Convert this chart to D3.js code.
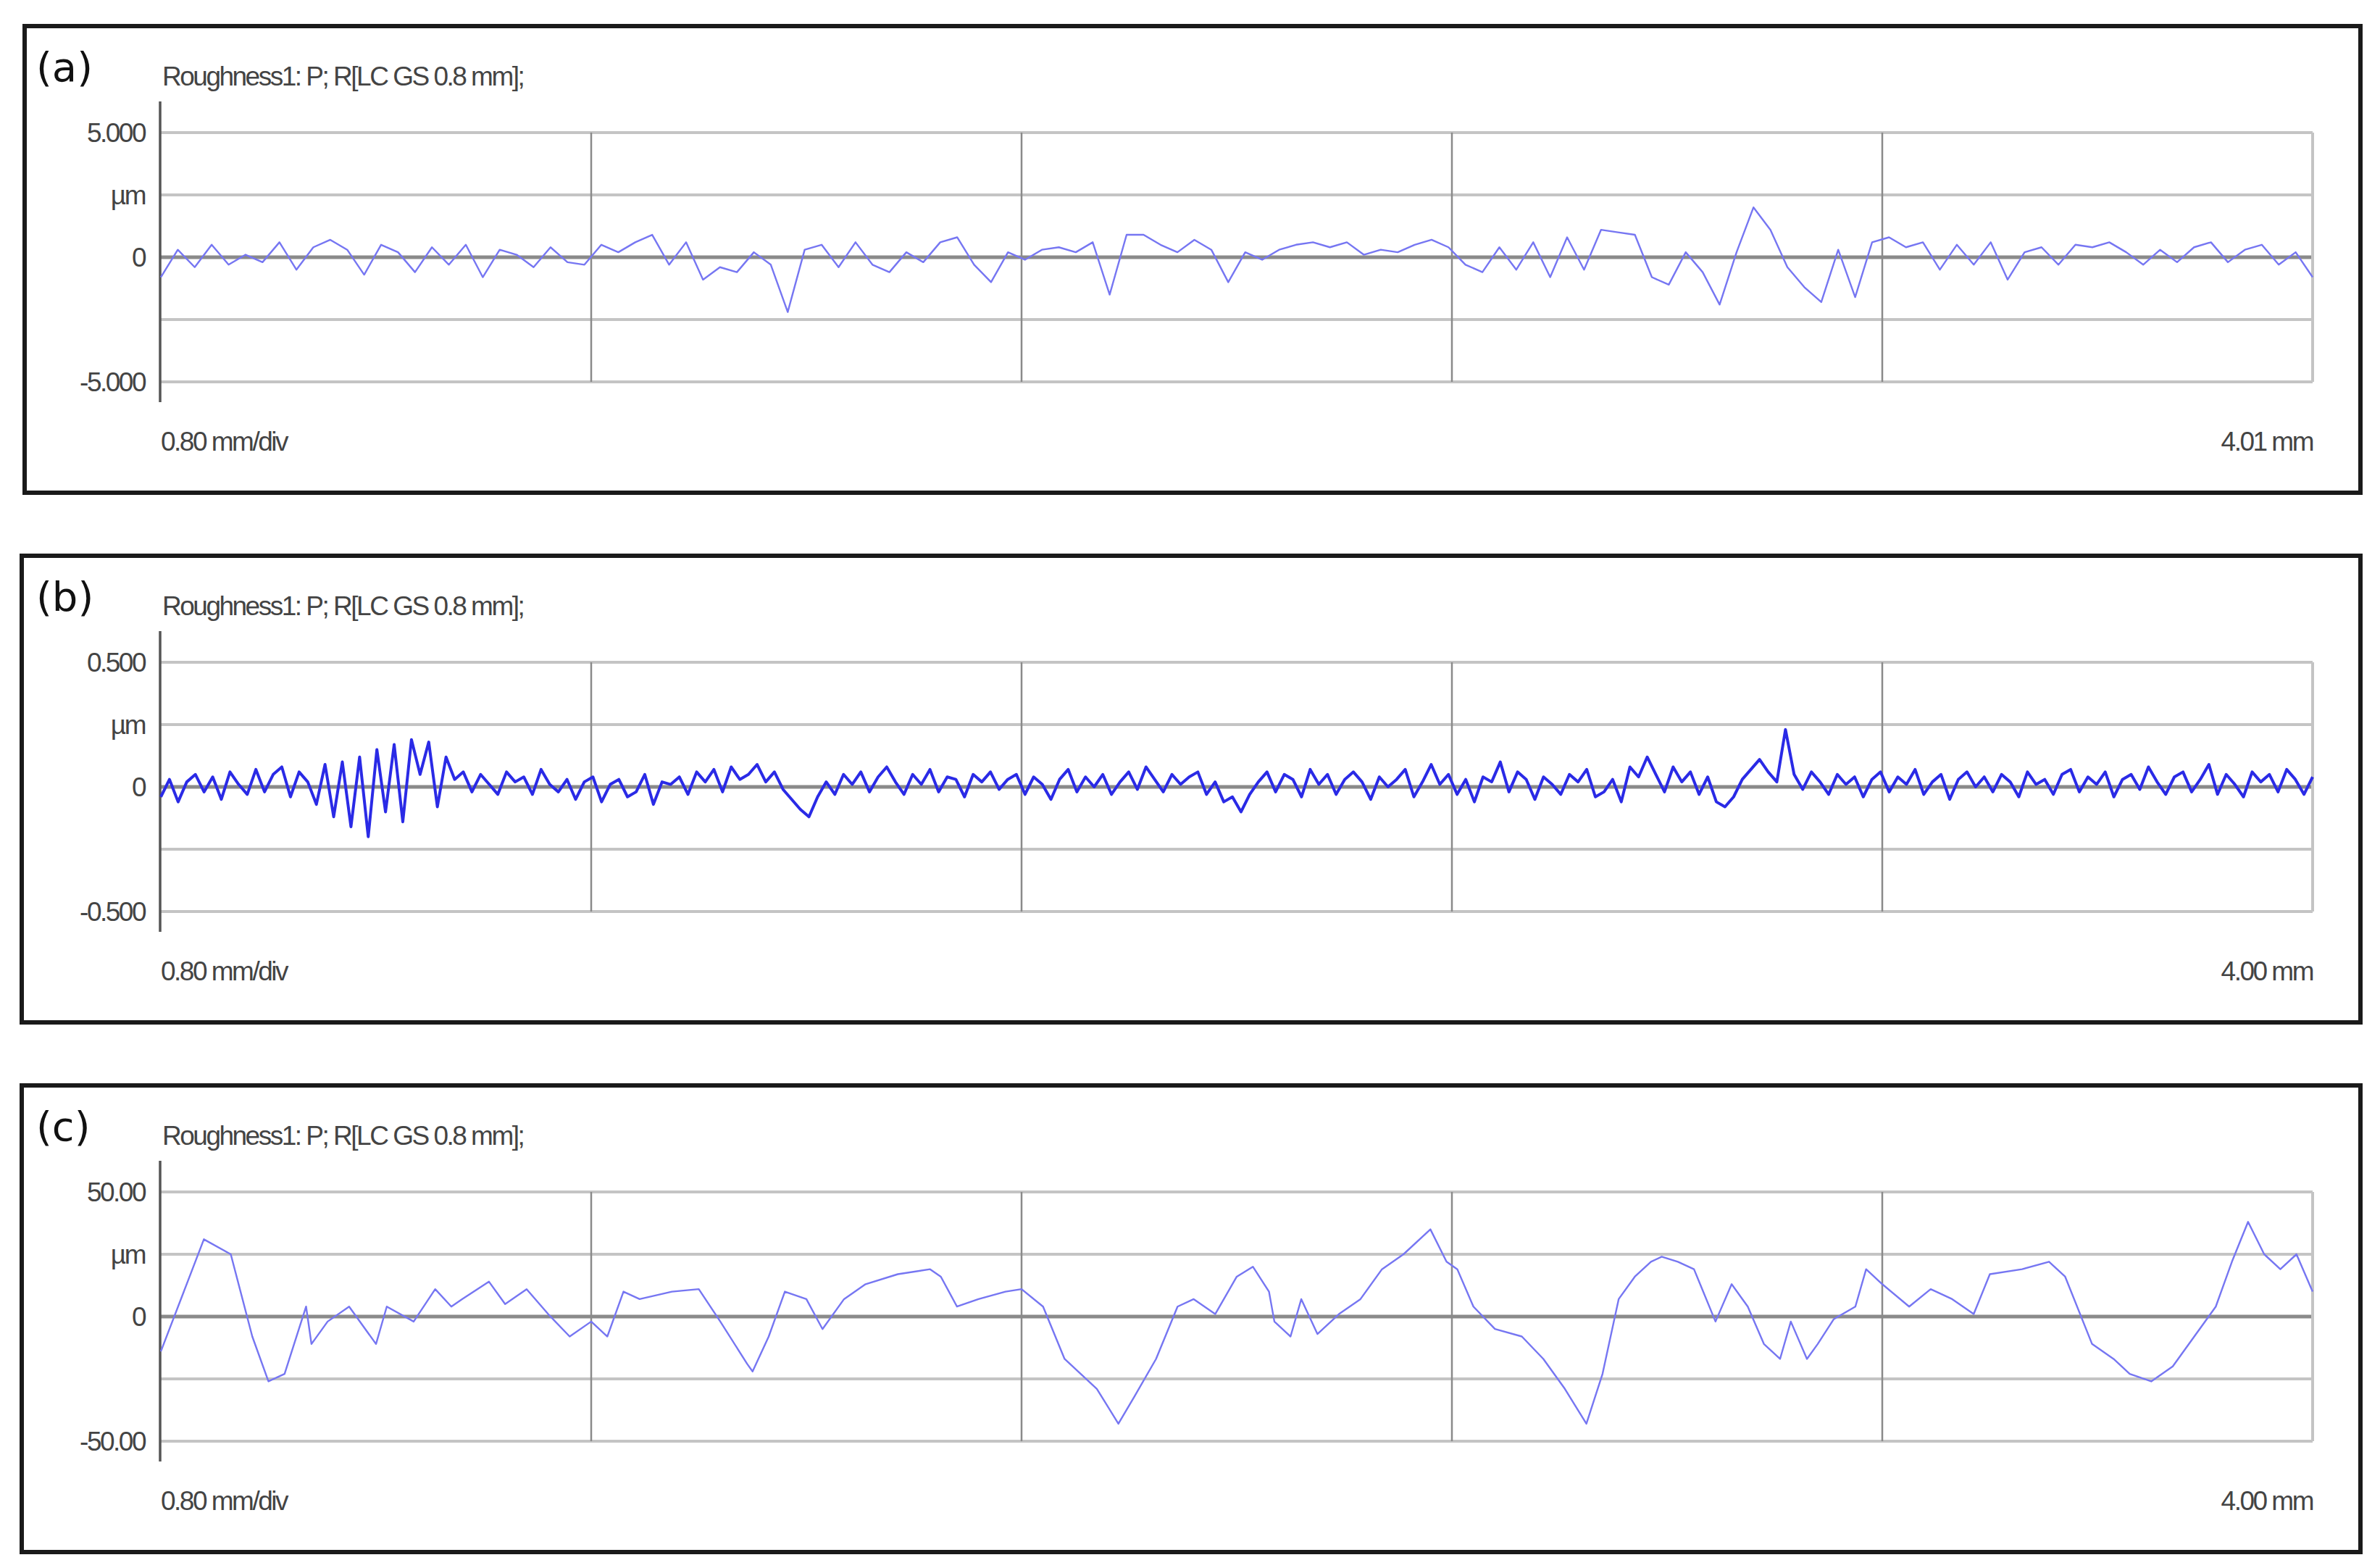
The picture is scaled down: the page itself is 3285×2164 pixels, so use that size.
<!DOCTYPE html>
<html><head><meta charset="utf-8">
<script src="https://cdn.jsdelivr.net/npm/d3@7"></script>
<style>body{margin:0;background:#fff}</style>
</head><body>
<svg id="canvas"></svg>
<script>
const W = 3285, H = 2164;

// profile (a): µm, evenly spaced over 0..4.01 mm
const profileA = [-0.8,0.3,-0.4,0.5,-0.3,0.1,-0.2,0.6,-0.5,0.4,0.7,0.3,-0.7,0.5,0.2,-0.6,0.4,-0.3,0.5,-0.8,
  0.3,0.1,-0.4,0.4,-0.2,-0.3,0.5,0.2,0.6,0.9,-0.3,0.6,-0.9,-0.4,-0.6,0.2,-0.3,-2.2,0.3,0.5,
  -0.4,0.6,-0.3,-0.6,0.2,-0.2,0.6,0.8,-0.3,-1.0,0.2,-0.1,0.3,0.4,0.2,0.6,-1.5,0.9,0.9,0.5,
  0.2,0.7,0.3,-1.0,0.2,-0.1,0.3,0.5,0.6,0.4,0.6,0.1,0.3,0.2,
  0.5,0.7,0.4,-0.3,-0.6,0.4,-0.5,0.6,-0.8,0.8,-0.5,1.1,1.0,0.9,-0.8,-1.1,0.2,-0.6,
  -1.9,0.2,2.0,1.1,-0.4,-1.2,-1.8,0.3,-1.6,0.6,0.8,0.4,0.6,-0.5,0.5,-0.3,0.6,-0.9,0.2,0.4,
  -0.3,0.5,0.4,0.6,0.2,-0.3,0.3,-0.2,0.4,0.6,-0.2,0.3,0.5,-0.3,0.2,-0.8];

// profile (b): µm, evenly spaced over 0..4.00 mm
const profileB = [-0.04,0.03,-0.06,0.02,0.05,-0.02,0.04,-0.05,0.06,0.01,-0.03,0.07,-0.02,0.05,0.08,-0.04,0.06,0.02,-0.07,0.09,
  -0.12,0.10,-0.16,0.12,-0.20,0.15,-0.10,0.17,-0.14,0.19,0.05,0.18,-0.08,0.12,0.03,0.06,-0.02,0.05,0.01,-0.03,
  0.06,0.02,0.04,-0.03,0.07,0.01,-0.02,0.03,-0.05,0.02,0.04,-0.06,0.01,0.03,-0.04,-0.02,0.05,-0.07,0.02,0.01,
  0.04,-0.03,0.06,0.02,0.07,-0.02,0.08,0.03,0.05,0.09,0.02,0.06,-0.01,-0.05,-0.09,-0.12,-0.04,0.02,-0.03,0.05,
  0.01,0.06,-0.02,0.04,0.08,0.02,-0.03,0.05,0.01,0.07,-0.02,0.04,0.03,-0.04,0.05,0.02,0.06,-0.01,0.03,0.05,
  -0.03,0.04,0.01,-0.05,0.03,0.07,-0.02,0.04,0.00,0.05,-0.03,0.02,0.06,-0.01,0.08,0.03,-0.02,0.05,0.01,0.04,
  0.06,-0.03,0.02,-0.06,-0.04,-0.10,-0.03,0.02,0.06,-0.02,0.05,0.03,-0.04,0.07,0.01,0.05,-0.03,0.03,0.06,0.02,
  -0.05,0.04,0.00,0.03,0.07,-0.04,0.02,0.09,0.01,0.05,-0.03,0.03,-0.06,0.04,0.02,0.10,-0.02,0.06,0.03,-0.05,
  0.04,0.01,-0.03,0.05,0.02,0.07,-0.04,-0.02,0.03,-0.06,0.08,0.04,0.12,0.05,-0.02,0.08,0.02,0.06,-0.03,0.04,
  -0.06,-0.08,-0.04,0.03,0.07,0.11,0.06,0.02,0.23,0.05,-0.01,0.06,0.02,-0.03,0.05,0.01,0.04,-0.04,0.03,0.06,
  -0.02,0.04,0.01,0.07,-0.03,0.02,0.05,-0.05,0.03,0.06,0.00,0.04,-0.02,0.05,0.02,-0.04,0.06,0.01,0.03,-0.03,
  0.05,0.07,-0.02,0.04,0.01,0.06,-0.04,0.03,0.05,-0.01,0.08,0.02,-0.03,0.04,0.06,-0.02,0.03,0.09,-0.03,0.05,
  0.01,-0.04,0.06,0.02,0.05,-0.02,0.07,0.03,-0.03,0.04];

// profile (c): [mm, µm]
const profileC = [[0,-14],[0.08,31],[0.13,25],[0.17,-8],[0.20,-26],[0.23,-23],[0.27,4],[0.28,-11],[0.31,-2],[0.35,4],
  [0.40,-11],[0.42,4],[0.47,-2],[0.51,11],[0.54,4],[0.56,7],[0.61,14],[0.64,5],[0.68,11],[0.72,1],
  [0.76,-8],[0.80,-2],[0.83,-8],[0.86,10],[0.89,7],[0.95,10],[1.00,11],[1.04,-2],[1.09,-19],[1.10,-22],
  [1.13,-8],[1.16,10],[1.20,7],[1.23,-5],[1.27,7],[1.31,13],[1.37,17],[1.43,19],[1.45,16],[1.48,4],
  [1.52,7],[1.57,10],[1.60,11],[1.64,4],[1.68,-17],[1.74,-29],[1.78,-43],[1.81,-32],[1.85,-17],[1.89,4],
  [1.92,7],[1.96,1],[2.00,16],[2.03,20],[2.06,10],[2.07,-2],[2.10,-8],[2.12,7],[2.15,-7],[2.19,1],
  [2.23,7],[2.27,19],[2.31,25],[2.36,35],[2.39,22],[2.41,19],[2.44,4],[2.48,-5],[2.53,-8],[2.57,-17],
  [2.61,-29],[2.65,-43],[2.68,-23],[2.71,7],[2.74,16],[2.77,22],[2.79,24],[2.82,22],[2.85,19],[2.89,-2],
  [2.92,13],[2.95,4],[2.98,-11],[3.01,-17],[3.03,-2],[3.06,-17],[3.08,-11],[3.11,-1],[3.15,4],[3.17,19],
  [3.20,13],[3.25,4],[3.29,11],[3.33,7],[3.37,1],[3.40,17],[3.46,19],[3.51,22],[3.54,16],[3.59,-11],
  [3.63,-17],[3.66,-23],[3.70,-26],[3.74,-20],[3.78,-8],[3.82,4],[3.85,22],[3.88,38],[3.91,25],[3.94,19],
  [3.97,25],[4.00,10]];

const panels = [
  {tag: "(a)", data: profileA.map((v, i) => [i / (profileA.length - 1) * 4.01, v]), xMax: 4.01,
   yMax: 5, ticks: ["5.000", "µm", "0", "", "-5.000"], end: "4.01 mm", color: "#7676f2", sw: 2.4},
  {tag: "(b)", data: profileB.map((v, i) => [i / (profileB.length - 1) * 4.00, v]), xMax: 4.00,
   yMax: 0.5, ticks: ["0.500", "µm", "0", "", "-0.500"], end: "4.00 mm", color: "#2a2ae6", sw: 4},
  {tag: "(c)", data: profileC, xMax: 4.00,
   yMax: 50, ticks: ["50.00", "µm", "0", "", "-50.00"], end: "4.00 mm", color: "#7676f2", sw: 2.4}
];

const svg = d3.select("#canvas").attr("width", W).attr("height", H);
const font = "'Liberation Sans', Arial, sans-serif";

panels.forEach((p, k) => {
  const oy = k * 731;
  const g = svg.append("g").attr("transform", `translate(0,${oy})`);
  const boxX = k === 0 ? 34 : 30;
  g.append("rect").attr("x", boxX).attr("y", 36).attr("width", 3226 - (boxX - 32)).attr("height", 644)
    .attr("fill", "none").attr("stroke", "#1a1a1a").attr("stroke-width", 6);

  const x = d3.scaleLinear().domain([0, p.xMax]).range([222, 3192]);
  const y = d3.scaleLinear().domain([-p.yMax, p.yMax]).range([527, 183]);

  // horizontal grid
  const hv = [p.yMax, p.yMax / 2, 0, -p.yMax / 2, -p.yMax];
  g.selectAll(".h").data(hv).enter().append("line")
    .attr("x1", 222).attr("x2", 3192).attr("y1", d => y(d)).attr("y2", d => y(d))
    .attr("stroke", d => d === 0 ? "#8a8a8a" : "#c4c4c4").attr("stroke-width", d => d === 0 ? 5 : 4);
  // vertical grid (5 divisions)
  const xv = d3.range(1, 6).map(i => i * p.xMax / 5);
  g.selectAll(".v").data(xv).enter().append("line")
    .attr("x1", d => x(d)).attr("x2", d => x(d)).attr("y1", 183).attr("y2", 527)
    .attr("stroke", d => d === p.xMax ? "#c4c4c4" : "#8a8a8a").attr("stroke-width", d => d === p.xMax ? 4 : 2.5);
  // left axis line
  g.append("line").attr("x1", 221).attr("x2", 221).attr("y1", 140).attr("y2", 555)
    .attr("stroke", "#555").attr("stroke-width", 3.5);

  // tick labels
  g.selectAll(".t").data(p.ticks).enter().append("text")
    .attr("x", 200).attr("y", (d, i) => y(hv[i]) + 13)
    .attr("text-anchor", "end").attr("font-family", font).attr("font-size", 37)
    .attr("letter-spacing", -2.5).attr("fill", "#444").text(d => d);

  g.append("text").attr("x", 50).attr("y", 112).attr("font-family", "'DejaVu Sans', sans-serif")
    .attr("font-size", 56).attr("fill", "#111").text(p.tag);
  g.append("text").attr("x", 224).attr("y", 118).attr("font-family", font).attr("font-size", 37)
    .attr("letter-spacing", -2.5).attr("fill", "#444").text("Roughness1: P; R[LC GS 0.8 mm];");
  g.append("text").attr("x", 222).attr("y", 622).attr("font-family", font).attr("font-size", 37)
    .attr("letter-spacing", -2.5).attr("fill", "#444").text("0.80 mm/div");
  g.append("text").attr("x", 3192).attr("y", 622).attr("text-anchor", "end").attr("font-family", font)
    .attr("font-size", 37).attr("letter-spacing", -2.5).attr("fill", "#444").text(p.end);

  const line = d3.line().x(d => x(d[0])).y(d => y(d[1]));
  g.append("path").datum(p.data).attr("d", line).attr("fill", "none")
    .attr("stroke", p.color).attr("stroke-width", p.sw).attr("stroke-linejoin", "round");
});
</script>
</body></html>
